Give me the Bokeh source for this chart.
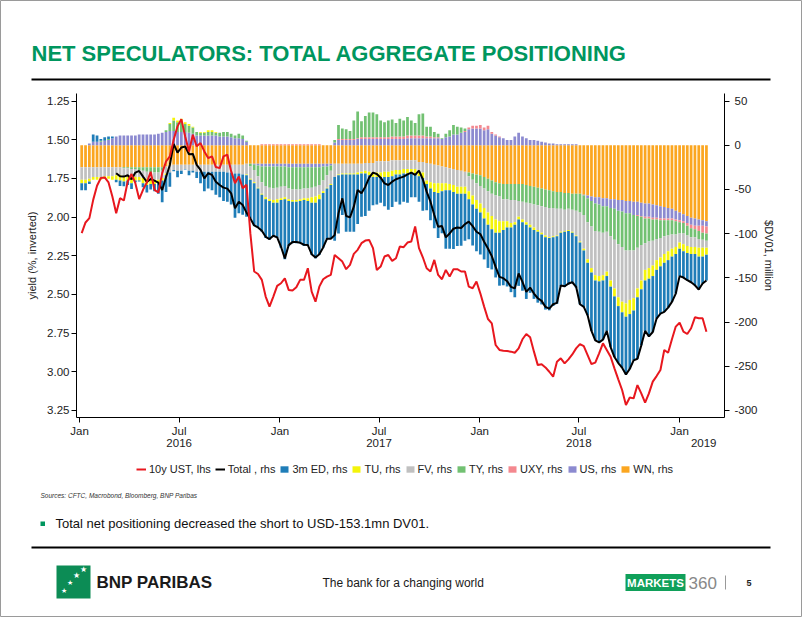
import numpy as np
import pandas as pd
from bokeh.plotting import figure
from bokeh.models import (ColumnDataSource, Range1d, LinearAxis, DatetimeAxis, FixedTicker,
                          DatetimeTickFormatter, NumeralTickFormatter, Legend, LegendItem,
                          Label, Arrow, BoxAnnotation)
from bokeh.embed import file_html
from bokeh.resources import INLINE

# ---------------- data (weekly, CFTC Tuesdays) ----------------
weeks = pd.date_range("2016-01-05", periods=164, freq="7D")

wn = [-25,-25,-25,-25,-25,-25,-25,-25,-25,-25,
      -25,-25,-25,-25,-25,-25,-25,-25,-25,-25,
      -25,-25,-24,-23,-22,-22,-22,-22,-22,-22,
      -22,-22,-22,-22,-22,-22,-22,-22,-22,-22,
      -22,-22,-22,-21,-21,-21,-21,-21,-21,-21,
      -21,-21,-21,-21,-21,-21,-21,-21,-21,-21,
      -21,-21,-21,-21,-21,-21,-21,-21,-21,-21,
      -21,-21,-21,-21,-20,-20,-20,-18,-18,-18,
      -18,-17,-17,-17,-17,-17,-17,-17,-19,-19,
      -20,-21,-22,-23,-24,-25,-26,-27,-28,-29,
      -30,-31,-32,-33,-34,-36,-38,-40,-42,-43,
      -44,-44,-44,-44,-44,-44,-45,-46,-47,-48,
      -49,-50,-51,-52,-53,-53,-54,-54,-55,-55,
      -55,-56,-57,-58,-59,-59,-60,-60,-61,-61,
      -62,-62,-63,-63,-64,-64,-65,-66,-66,-67,
      -68,-69,-70,-71,-72,-74,-76,-78,-80,-82,
      -83,-84,-85,-86]

us = [0,0,2,4,4,4,5,6,8,10,
      11,11,11,11,11,12,12,12,12,12,
      13,14,15,16,16,15,15,15,14,13,
      11,11,11,11,11,11,10,10,10,9,
      8,8,7,4,0,-1,-2,-3,-3,-3,
      -3,-3,-3,-3,-4,-4,-4,-4,-4,-4,
      -4,-4,-4,-3,-3,-2,3,6,6,6,
      6,6,7,7,7,7,7,7,7,7,
      7,7,7,7,7,8,8,8,8,8,
      8,8,8,8,7,9,10,12,12,14,
      15,18,19,19,19,17,18,13,11,9,
      8,6,6,10,14,10,8,6,6,5,
      4,3,2,2,1,1,1,1,1,1,
      0,-1,-3,-5,-7,-8,-9,-9,-10,-11,
      -12,-13,-14,-14,-15,-15,-15,-15,-15,-15,
      -14,-14,-13,-12,-11,-10,-9,-8,-8,-8,
      -8,-7,-6,-6]

uxy = [0,0,0,0,0,0,0,0,0,0,
       0,0,0,0,0,0,0,0,0,0,
       0,0,0,0,0,0,0,0,0,0,
       0,0,0,0,0,0,0,0,0,0,
       0,0,0,0,0,0,0,1,1,1,
       1,1,1,1,1,1,1,1,1,1,
       1,1,1,0,0,0,0,1,1,1,
       1,1,1,2,2,2,2,2,2,2,
       2,3,3,3,3,3,3,3,3,3,
       2,2,1,1,0,0,0,0,0,0,
       1,2,3,3,4,3,4,2,1,1,
       0,0,0,0,0,0,0,0,0,0,
       0,0,0,0,0,0,0,0,0,0,
       0,0,0,0,0,0,0,0,0,0,
       0,0,0,0,0,-1,-1,-2,-2,-2,
       -2,-2,-2,-2,-2,-2,-2,-2,-3,-4,
       -4,-6,-8,-8]

ty = [0,0,0,0,0,1,0,1,0,0,
      0,-1,-1,-2,-2,-3,-4,-5,-6,-6,
      -6,-4,2,8,12,11,12,9,8,7,
      4,3,3,4,4,3,4,5,5,4,
      3,5,4,1,-3,-6,-12,-18,-22,-24,
      -25,-24,-23,-22,-24,-25,-25,-25,-24,-24,
      -23,-22,-20,-16,-10,-6,3,16,12,11,
      9,21,30,18,24,28,28,26,19,17,
      19,19,15,20,18,21,17,14,24,25,
      11,11,6,4,1,4,7,11,9,6,
      3,-4,-7,-10,-12,-13,-14,-15,-15,-15,
      -17,-17,-18,-18,-19,-20,-20,-20,-20,-20,
      -20,-20,-20,-19,-19,-19,-19,-18,-18,-19,
      -21,-22,-27,-29,-31,-31,-30,-29,-32,-35,
      -38,-40,-42,-42,-40,-36,-32,-28,-26,-24,
      -22,-20,-18,-17,-16,-15,-13,-12,-11,-10,
      -9,-9,-8,-8]

fv = [-14,-14,-13,-11,-11,-11,-10,-10,-10,-9,
      -9,-9,-9,-9,-9,-8,-8,-8,-8,-8,
      -8,-8,-8,-8,-6,-7,-7,-5,-7,-7,
      -8,-8,-8,-8,-8,-8,-8,-8,-9,-9,
      -10,-10,-11,-12,-14,-14,-13,-13,-13,-13,
      -13,-13,-13,-13,-12,-12,-12,-11,-11,-11,
      -11,-11,-11,-12,-14,-15,-15,-12,-11,-11,
      -11,-11,-10,-9,-9,-10,-12,-13,-13,-12,
      -12,-12,-11,-11,-10,-10,-10,-10,-11,-12,
      -20,-21,-21,-20,-19,-18,-18,-18,-19,-18,
      -17,-17,-18,-19,-20,-22,-24,-25,-27,-28,
      -25,-25,-26,-25,-18,-20,-22,-24,-26,-28,
      -30,-32,-33,-32,-30,-26,-24,-24,-25,-28,
      -33,-38,-42,-47,-50,-50,-48,-45,-50,-55,
      -60,-62,-60,-56,-54,-46,-40,-30,-30,-28,
      -24,-22,-20,-18,-16,-14,-10,-12,-12,-11,
      -11,-10,-9,-8]

tu = [-4,-4,-3,-3,-3,-3,-3,-3,-4,-5,
      -6,-6,-5,-7,-4,-4,-6,-7,-5,-5,
      -4,-3,-2,1,3,2,3,2,2,1,
      0,1,1,2,2,1,0,0,0,0,
      0,0,0,-1,-1,-1,-1,-1,-2,-2,
      -3,-4,-2,-2,-2,-2,-2,-2,-2,-3,
      -6,-7,-5,-2,-1,-1,0,-1,-1,-1,
      -1,-1,-2,-2,-3,-4,-4,-5,-5,-6,
      -6,-6,-5,-5,-5,-5,-5,-5,-5,-6,
      -4,-7,-10,-11,-9,-8,-7,-8,-8,-8,
      -8,-9,-10,-10,-10,-12,-14,-15,-15,-13,
      -10,-7,-5,-3,-3,-3,-3,-3,-3,-2,
      -2,-2,-1,-1,-1,-1,-1,-1,-1,-1,
      -1,-2,-4,-5,-6,-6,-6,-5,-7,-9,
      -10,-12,-15,-16,-14,-10,-10,-12,-12,-12,
      -11,-10,-10,-10,-9,-8,-7,-8,-8,-8,
      -8,-10,-10,-8]

ed = [-8,-8,-3,8,7,2,4,3,2,-3,
      -6,-5.5,-5,-6.5,-2,-1,-4.5,-8.6,-6,-8,
      -12,-24.6,-19,-16,-1.5,-7.3,-3.6,-0.5,-5,-2,
      -7,-13,-22,-19,-21,-26,-29,-33,-33,-36,
      -50,-45,-45.6,-47,-44,-48,-44,-42,-44,-44,
      -38,-40,-54,-68,-51,-47,-47,-48,-52,-51,
      -59,-63,-63,-62,-57,-61,-72,-66,-46,-65,
      -65,-65,-56,-49,-48,-40,-32,-31,-29,-33,
      -37,-35,-31,-34,-32,-33,-27,-27,-29,-37,
      -29.5,-36,-41,-51,-47.5,-66,-66,-64.5,-59,-58.7,
      -53.2,-45.5,-46.5,-47.9,-47.5,-46.2,-48.8,-45.5,-50.6,-59.9,
      -62.4,-66.8,-73.2,-82,-75.1,-77.6,-83.9,-74,-77.8,-80.1,
      -79.1,-81.9,-81.8,-77.9,-76.4,-60.7,-62.5,-60.5,-57,-58.2,
      -69.9,-63.9,-59.4,-66.1,-67.7,-69,-66.9,-62.1,-68.3,-68.6,
      -64.4,-62.7,-65.3,-62,-56.4,-69.5,-63.4,-57.1,-65.2,-63.3,
      -55.1,-53.5,-55.6,-53.7,-51.2,-44.8,-31.1,-29.7,-30.7,-32,
      -35.4,-37.3,-30.5,-29.1]

nan = float("nan")
total = [nan,nan,nan,nan,nan,nan,nan,nan,nan,-31.7,
         -35.1,-35.5,-34.0,-38.5,-31.0,-29.1,-35.5,-41.6,-38.2,-40.1,
         -42.3,-50.6,-36.3,-22.3,1.5,-8.3,-2.6,-1.5,-10.2,-9.8,
         -22.3,-28.0,-37.4,-31.7,-33.6,-41.2,-45.0,-48.0,-49.1,-54.4,
         -71.4,-63.9,-67.6,-76.3,-82.8,-90.7,-93.0,-96.8,-103.6,-106.2,
         -102.4,-104.3,-114.9,-128.1,-113.0,-109.6,-109.6,-110.4,-112.6,-113.0,
         -123.2,-127.0,-123.2,-115.6,-105.8,-105.8,-101.7,-77.1,-60.1,-80.1,
         -81.6,-69.5,-50.6,-54.4,-46.9,-36.7,-31.0,-32.5,-36.7,-43.1,
         -45.0,-41.2,-38.5,-37.0,-35.5,-32.9,-31.0,-33.6,-28.7,-38.5,
         -52.5,-63.9,-79.0,-92.2,-91.5,-104.3,-99.8,-94.5,-93.0,-93.7,
         -89.2,-86.5,-91.5,-97.9,-100.5,-109.2,-116.8,-125.5,-137.6,-148.9,
         -150.4,-153.8,-160.2,-162.0,-145.1,-154.6,-165.9,-161.0,-167.8,-173.1,
         -176.1,-182.9,-184.8,-179.9,-178.4,-158.7,-159.5,-156.5,-155.0,-160.2,
         -179.9,-182.9,-192.4,-210.1,-220.7,-223.0,-219.9,-210.1,-228.3,-239.6,
         -246.4,-251.7,-259.3,-253.0,-243.4,-241.5,-226.4,-210.1,-216.2,-211.3,
         -196.1,-190.5,-188.6,-183.7,-177.2,-167.8,-148.1,-149.7,-152.7,-155.0,
         -158.4,-163.3,-156.5,-153.1]

ust10y = [2.104,2.035,2.007,1.889,1.798,1.748,1.744,1.776,1.867,1.975,
          1.878,1.893,1.770,1.722,1.781,1.884,1.824,1.776,1.707,1.824,
          1.841,1.716,1.641,1.608,1.500,1.414,1.367,1.479,1.576,1.468,
          1.543,1.522,1.576,1.619,1.608,1.677,1.684,1.608,1.597,1.705,
          1.781,1.738,1.813,1.792,2.104,2.352,2.368,2.406,2.514,2.579,
          2.514,2.445,2.428,2.396,2.471,2.475,2.454,2.406,2.406,2.331,
          2.482,2.547,2.450,2.402,2.385,2.374,2.245,2.266,2.288,2.337,
          2.309,2.238,2.212,2.169,2.152,2.148,2.201,2.342,2.320,2.255,
          2.245,2.283,2.266,2.191,2.195,2.165,2.158,2.061,2.201,2.260,
          2.331,2.352,2.277,2.374,2.402,2.342,2.385,2.337,2.337,2.352,
          2.352,2.450,2.460,2.417,2.493,2.579,2.659,2.687,2.827,2.859,
          2.864,2.866,2.870,2.877,2.849,2.790,2.756,2.777,2.870,2.957,
          2.952,2.972,3.000,3.032,2.935,2.913,2.946,2.920,2.888,2.849,
          2.821,2.834,2.892,2.950,2.941,2.881,2.816,2.859,2.903,2.978,
          3.049,3.118,3.215,3.166,3.172,3.086,3.140,3.200,3.140,3.064,
          3.028,2.989,2.859,2.877,2.790,2.708,2.683,2.741,2.756,2.719,
          2.648,2.654,2.654,2.741]

series_names = ["3m ED", "TU", "FV", "TY", "UXY", "US", "WN"]
series_vals = {"3m ED": ed, "TU": tu, "FV": fv, "TY": ty, "UXY": uxy, "US": us, "WN": wn}
series_cols = {"3m ED": "#1F7DB8", "TU": "#F4F40A", "FV": "#C0C0C0", "TY": "#72C172",
               "UXY": "#F4888F", "US": "#8C8AD0", "WN": "#FBA620"}
stack_order = ["WN", "US", "UXY", "TY", "FV", "TU", "3m ED"]   # outward from zero

month_ticks = ["2016-01-01", "2016-07-01", "2017-01-01", "2017-07-01",
               "2018-01-01", "2018-07-01", "2019-01-01"]
year_ticks = ["2016-07-01", "2017-07-01", "2018-07-01", "2019-02-14"]
lhs_ticks = [1.25, 1.5, 1.75, 2.0, 2.25, 2.5, 2.75, 3.0, 3.25]
rhs_ticks = [50, 0, -50, -100, -150, -200, -250, -300]

# ---------------- page geometry ----------------
FONT = "Liberation Sans"
GREEN = "#00965E"
W, H = 802, 617
CL, CR, CT, CB = 76, 724, 93, 417            # chart area (pixels)
X0 = pd.Timestamp("2015-12-26 12:00").value / 1e6
X1 = pd.Timestamp("2019-03-24").value / 1e6
Y0, Y1 = -308.0, 58.5                          # rhs values at chart bottom / top
L0, L1 = 3.2957, 1.2014                        # lhs (inverted) at chart bottom / top

kx = (X1 - X0) / (CR - CL)
ky = (Y1 - Y0) / (CB - CT)
kl = (L0 - L1) / (CB - CT)
XS, XE = X0 - CL * kx, X1 + (W - CR) * kx
YT, YB = Y1 + CT * ky, Y0 - (H - CB) * ky
LT, LB = L1 - CT * kl, L0 + (H - CB) * kl


def px(cx):   # page x -> data x
    return XS + cx * kx


def py(cy):   # page y -> data y
    return YT - cy * ky


# ---------------- chart ----------------
src = {"x": weeks, "total": np.array(total, dtype=float), "ust": np.array(ust10y, dtype=float)}
pos_base = np.zeros(len(weeks))
neg_base = np.zeros(len(weeks))
for name in stack_order:
    v = np.array(series_vals[name], dtype=float)
    pos = np.where(v > 0, v, 0.0)
    neg = np.where(v < 0, v, 0.0)
    src[name + "_pb"] = pos_base.copy()
    src[name + "_pt"] = pos_base + pos
    src[name + "_nb"] = neg_base + neg
    src[name + "_nt"] = neg_base.copy()
    pos_base = pos_base + pos
    neg_base = neg_base + neg
source = ColumnDataSource(src)

p = figure(width=W, height=H, x_axis_type="datetime",
           x_range=Range1d(XS, XE), y_range=Range1d(YB, YT), y_axis_location="right",
           output_backend="svg", toolbar_location=None,
           min_border=0, min_border_left=0, min_border_right=0, min_border_top=0, min_border_bottom=0)
p.outline_line_color = "#9a9a9a"
p.grid.visible = False
p.background_fill_color = "white"
p.border_fill_color = "white"
p.extra_y_ranges = {"lhs": Range1d(LB, LT)}

bar_w = 5 * 24 * 3600 * 1000
bar_r = {}
for name in stack_order:
    rn = p.vbar(x="x", bottom=name + "_nb", top=name + "_nt", width=bar_w, source=source,
                fill_color=series_cols[name], line_color=None)
    p.vbar(x="x", bottom=name + "_pb", top=name + "_pt", width=bar_w, source=source,
           fill_color=series_cols[name], line_color=None)
    bar_r[name] = rn

r_tot = p.line(x="x", y="total", source=source, line_color="black", line_width=2)
r_ust = p.line(x="x", y="ust", source=source, y_range_name="lhs", line_color="#E8171E", line_width=2)

# right axis (rhs, $DV01)
ra = p.yaxis[0]
ra.ticker = FixedTicker(ticks=rhs_ticks)
ra.major_label_overrides = {t: str(t) for t in rhs_ticks}
ra.axis_label = "$DV01, million"
ra.fixed_location = X1
ra.bounds = (Y0, Y1)

# left axis (10y yield, inverted)
la = LinearAxis(y_range_name="lhs", ticker=FixedTicker(ticks=lhs_ticks),
                formatter=NumeralTickFormatter(format="0.00"), axis_label="yield (%, inverted)")
la.fixed_location = X0
la.bounds = (L1, L0)
p.add_layout(la, "left")

# month axis
xa = p.xaxis[0]
xa.ticker = FixedTicker(ticks=[pd.Timestamp(t).value // 10**6 for t in month_ticks])
xa.formatter = DatetimeTickFormatter(days="%b", months="%b", years="%b")
xa.fixed_location = Y0
xa.bounds = (X0, X1)

# year axis
ya = DatetimeAxis(ticker=FixedTicker(ticks=[pd.Timestamp(t).value // 10**6 for t in year_ticks]),
                  formatter=DatetimeTickFormatter(days="%Y", months="%Y", years="%Y"))
ya.fixed_location = Y0
ya.bounds = (X0, X1)
ya.axis_line_color = None
ya.major_tick_line_color = None
ya.major_tick_out = 0
ya.major_tick_in = 0
ya.major_label_standoff = 21
p.add_layout(ya, "below")

for ax in [ra, la, xa, ya]:
    ax.minor_tick_line_color = None
    ax.major_label_text_font = FONT
    ax.major_label_text_font_size = "11.5px"
    ax.major_label_text_color = "#222222"
    ax.axis_label_text_font = FONT
    ax.axis_label_text_font_size = "11px"
    ax.axis_label_text_font_style = "normal"
    ax.axis_label_text_color = "#222222"
for ax in [ra, la, xa]:
    ax.axis_line_color = "black"
    ax.major_tick_line_color = "black"
    ax.major_tick_out = 5
    ax.major_tick_in = 0
la.major_label_standoff = 2
la.axis_label_standoff = 6
ra.major_label_standoff = 5
ra.axis_label_standoff = 2
xa.major_label_standoff = 2

items = [LegendItem(label="10y UST, lhs", renderers=[r_ust]),
         LegendItem(label="Total , rhs", renderers=[r_tot])]
for name in series_names:
    items.append(LegendItem(label=name + ", rhs", renderers=[bar_r[name]]))
legend = Legend(items=items, orientation="horizontal", location=(136, 142),
                border_line_color=None, background_fill_alpha=0,
                label_text_font=FONT, label_text_font_size="11px", label_text_color="#222222",
                glyph_width=10, glyph_height=8, label_standoff=3, spacing=4,
                padding=3, margin=0, label_height=12)
p.add_layout(legend, "center")

# ---------------- page decorations (header / footer) ----------------
def label(cx, cy, text, size, color="#111111", style="normal", align="left", baseline="middle"):
    p.add_layout(Label(x=px(cx), y=py(cy), text=text, text_font=FONT, text_font_size=size,
                       text_font_style=style, text_color=color, text_align=align,
                       text_baseline=baseline))


def rule(cx0, cx1, cy0, cy1=None, width=2, color="black"):
    p.add_layout(Arrow(start=None, end=None, x_start=px(cx0), y_start=py(cy0), x_end=px(cx1),
                       y_end=py(cy0 if cy1 is None else cy1), line_color=color, line_width=width))


def box(cx0, cx1, cy0, cy1, color):
    p.add_layout(BoxAnnotation(left=px(cx0), right=px(cx1), top=py(cy0), bottom=py(cy1),
                               fill_color=color, fill_alpha=1.0, line_color=None))


label(31, 53, "NET SPECULATORS: TOTAL AGGREGATE POSITIONING", "22px", GREEN, "bold",
      baseline="alphabetic")
rule(31, 770, 79)

label(40, 495, "Sources: CFTC, Macrobond, Bloomberg, BNP Paribas", "6.5px", "#333333", "italic")
box(40, 44.5, 521, 525.5, GREEN)
label(55, 523, "Total net positioning decreased the short to USD-153.1mn DV01.", "13px")
rule(31, 770, 547)

box(56, 90, 565, 598, "#0C8C55")
for sx, sy, ss in [(63, 590, "7px"), (69, 582, "7px"), (76, 575, "8px"), (83, 569, "8px")]:
    label(sx, sy, "\u2605", ss, "white", align="center")
label(96, 582, "BNP PARIBAS", "17px", "#1a1a1a", "bold")
label(322, 582, "The bank for a changing world", "12px", "#1a1a1a")
box(625, 685, 573.5, 590.5, "#10A05A")
label(655, 582, "MARKETS", "11.5px", "white", "bold", align="center")
label(688, 582, "360", "17px", "#888888")
rule(725, 725, 575, 589, width=1, color="#999999")
label(746, 582, "5", "9px", "#222222", "bold")

open("out.html", "w").write(file_html(p, INLINE))
